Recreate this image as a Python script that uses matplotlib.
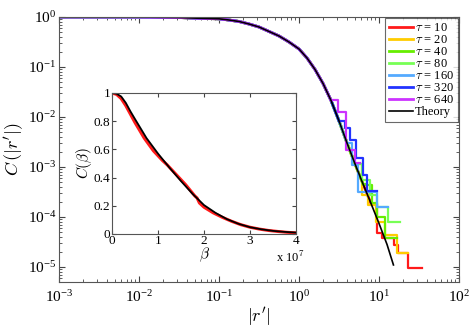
import numpy as np
import matplotlib
matplotlib.use('Agg')
import matplotlib.pyplot as plt

plt.rcParams['font.family'] = ['Liberation Serif', 'DejaVu Serif']
plt.rcParams['mathtext.fontset'] = 'cm'

# theory curve
r_theory = [0.001, 0.01, 0.0316, 0.0562, 0.1, 0.133, 0.178, 0.237, 0.316, 0.422,
            0.562, 0.750, 1.0, 1.259, 1.585, 1.995, 2.512, 3.162, 3.981, 5.012,
            6.310, 7.943, 10.0, 12.59, 15.14]
c_theory = [1.0, 0.998, 0.977, 0.944, 0.92, 0.871, 0.813, 0.724, 0.631, 0.513,
            0.417, 0.316, 0.229, 0.151, 0.0891, 0.0468, 0.0214, 0.00832, 0.00302, 0.00115,
            4.57e-4, 1.86e-4, 7.41e-5, 2.82e-5, 1.1e-5]

# collapsed data (all tau lie on the same curve before the tail)
r_bulk = r_theory
c_bulk = c_theory

taus = [10, 20, 40, 80, 160, 320, 640]
colors = ['#ff1a1a', '#ffcc00', '#66ee00', '#77ff55', '#55aaff', '#2233ff', '#cc33ff']

# staircase tails, one per tau
tail_r = {
    10:  [9.44, 10.9, 15.4, 17.3, 23.0, 34.5],
    20:  [6.13, 7.29, 9.17, 11.9, 16.8, 23.0],
    40:  [6.88, 8.17, 9.44, 11.9, 16.8],
    80:  [6.13, 7.72, 9.44, 12.96, 18.3],
    160: [4.6, 5.47, 9.44, 12.96],
    320: [3.76, 4.34, 5.16, 6.31, 7.08, 9.44],
    640: [3.07, 3.87, 5.01, 5.79],
}
tail_c = {
    10:  [4.8e-5, 3.8e-5, 2.75e-5, 1.9e-5, 9.5e-6, 9.5e-6],
    20:  [2.75e-4, 1.74e-4, 7.9e-5, 4.4e-5, 1.9e-5, 1.9e-5],
    40:  [4.4e-4, 1.9e-4, 1.0e-4, 3.8e-5, 3.8e-5],
    80:  [5.5e-4, 2.75e-4, 1.58e-4, 7.9e-5, 7.9e-5],
    160: [1.1e-3, 3.2e-4, 1.58e-4, 1.58e-4],
    320: [6.0e-3, 3.5e-3, 1.5e-3, 6.9e-4, 3.3e-4, 3.3e-4],
    640: [0.0126, 2.2e-3, 1.2e-3, 1.2e-3],
}

# inset: C(beta)
beta_theory = [0, 0.1, 0.2, 0.3, 0.4, 0.5, 0.75, 1.0, 1.25, 1.5, 1.75, 2.0, 2.25, 2.5,
               2.75, 3.0, 3.25, 3.5, 3.75, 4.0]
cb_theory = [1.0, 0.995, 0.975, 0.93, 0.87, 0.815, 0.68, 0.57, 0.47, 0.375, 0.285, 0.205,
             0.15, 0.105, 0.072, 0.048, 0.033, 0.022, 0.015, 0.01]
beta_data = [0, 0.1, 0.2, 0.3, 0.4, 0.5, 0.6, 0.7, 0.8, 0.9, 1.0, 1.1, 1.2, 1.3, 1.4, 1.5,
             1.6, 1.7, 1.75, 1.8, 1.85, 1.9, 2.0, 2.2, 2.4, 2.6, 2.8, 3.0, 3.2, 3.4, 3.6,
             3.8, 4.0]
cb_data = [1.0, 0.99, 0.96, 0.91, 0.85, 0.79, 0.735, 0.68, 0.635, 0.59, 0.555, 0.52,
           0.49, 0.455, 0.42, 0.385, 0.35, 0.31, 0.29, 0.27, 0.255, 0.22, 0.19, 0.15,
           0.118, 0.09, 0.066, 0.048, 0.035, 0.025, 0.018, 0.012, 0.008]

fig = plt.figure(figsize=(4.71, 3.32), dpi=100)
fig.patch.set_facecolor('white')
ax = fig.add_axes([0.1253, 0.1506, 0.8493, 0.7982])

for tau, col in zip(taus, colors):
    tr, tc = tail_r[tau], tail_c[tau]
    rb = [r for r in r_bulk if r < tr[0]]
    cb = [c for r, c in zip(r_bulk, c_bulk) if r < tr[0]]
    ax.plot(rb, cb, color=col, lw=2.0, label=r'$\tau$ = %d' % tau)
    ax.plot([rb[-1]] + tr, [cb[-1]] + tc, color=col, lw=1.6, drawstyle='steps-post')
ax.plot(r_theory, c_theory, color='black', lw=1.2, label='Theory')

ax.set_xscale('log')
ax.set_yscale('log')
ax.set_xlim(1e-3, 1e2)
ax.set_ylim(10 ** -5.3, 1.0)
ax.set_yticks([1e0, 1e-1, 1e-2, 1e-3, 1e-4, 1e-5])
ax.set_xticks([1e-3, 1e-2, 1e-1, 1e0, 1e1, 1e2])
ax.tick_params(which='both', direction='in', top=True, right=True, labelsize=11,
               colors='#444444', labelcolor='black')
ax.tick_params(which='major', length=4)
ax.tick_params(which='minor', length=2)
ax.tick_params(axis='x', which='major', pad=5)
ax.tick_params(axis='y', which='major', pad=2)
for sp in ax.spines.values():
    sp.set_color('#555555')
    sp.set_linewidth(0.8)
ax.set_xlabel(r"$|r'|$", fontsize=13, labelpad=0)
ax.set_ylabel(r"$C\,(|r'|)$", fontsize=13, labelpad=1)

leg = ax.legend(loc='upper right', fontsize=9, frameon=True, fancybox=False,
                borderaxespad=0.1, handlelength=1.9, handletextpad=0.2,
                labelspacing=0.0, borderpad=0.3)
leg.get_frame().set_edgecolor('#444444')
leg.get_frame().set_linewidth(0.8)

# inset
axi = fig.add_axes([0.2378, 0.2952, 0.3907, 0.4247])
axi.plot(np.array(beta_data) * 1e7, cb_data, color='#ff1a1a', lw=2.2)
axi.plot(np.array(beta_theory) * 1e7, cb_theory, color='black', lw=1.3)
axi.set_xlim(0, 4e7)
axi.set_ylim(0, 1)
axi.set_xticks([0, 1e7, 2e7, 3e7, 4e7])
axi.set_xticklabels(['0', '1', '2', '3', '4'])
axi.set_yticks([0, 0.2, 0.4, 0.6, 0.8, 1.0])
axi.set_yticklabels(['0', '0.2', '0.4', '0.6', '0.8', '1'])
axi.tick_params(direction='in', top=True, right=True, labelsize=9.5, length=3, pad=1,
                colors='#444444', labelcolor='black')
for sp in axi.spines.values():
    sp.set_color('#555555')
    sp.set_linewidth(0.8)
axi.set_xlabel(r'$\beta$', fontsize=11, labelpad=-1)
axi.set_ylabel(r'$C(\beta)$', fontsize=11, labelpad=0)
axi.text(0.89, -0.165, r'x 10$^7$', transform=axi.transAxes, fontsize=9,
         ha='left', va='center')

fig.savefig('out.png', dpi=100, facecolor='white')
plt.close(fig)
